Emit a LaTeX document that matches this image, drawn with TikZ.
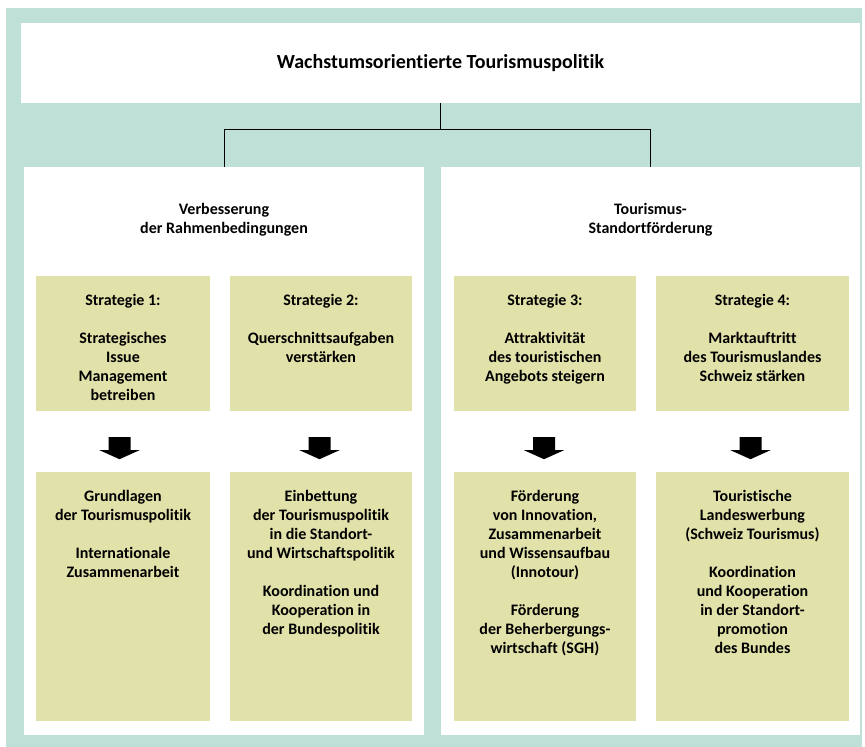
\documentclass[tikz,border=0pt]{standalone}
\usepackage{fontspec}
\setmainfont[Ligatures=NoCommon]{Carlito}
\usetikzlibrary{positioning}
\definecolor{tealbg}{RGB}{191,224,215}
\definecolor{strawbox}{RGB}{225,225,170}

\begin{document}
\begin{tikzpicture}[x=1pt, y=-1pt,
        panel/.style={fill=white, inner sep=0pt},
        strat/.style={fill=strawbox, inner sep=0pt},
        boxtext/.style={align=center, inner sep=0pt, font=\fontsize{16}{19}\selectfont\bfseries}]
    \useasboundingbox (0,0) rectangle (865,747);
    % Background
    \fill[tealbg] (6,8) rectangle (862,747);

    % Top level
    \node[panel, minimum width=839pt, minimum height=80pt, font=\fontsize{20}{22}\selectfont\bfseries] (top) at (440.5,63) {Wachstumsorientierte Tourismuspolitik};

    % Two pillars
    \node[panel, minimum width=400pt, minimum height=568pt] (pl) at (224,451) {};
    \node[panel, minimum width=419pt, minimum height=568pt] (pr) at (650.5,451) {};
    \node[boxtext, below=36pt of pl.north] (pltext) {Verbesserung\\der Rahmenbedingungen};
    \node[boxtext, below=36pt of pr.north] (prtext) {Tourismus-\\Standortförderung};

    % Tree connections
    \coordinate (fork) at ([yshift=-26pt]top.south);
    \draw[line width=0.9pt] (top.south) -- (fork) -| (pl.north);
    \draw[line width=0.9pt] (fork) -| (pr.north);

    % Strategy boxes and measure boxes
    \foreach \n/\x/\w in {1/123/174, 2/321/182, 3/545/182, 4/752.5/193} {
        \node[strat, minimum width=\w pt, minimum height=135pt] (s\n) at (\x,343.5) {};
        \node[strat, minimum width=\w pt, minimum height=249pt] (m\n) at (\x,596.5) {};
    }

    \node[boxtext, below=18pt of s1.north] (s1text) {Strategie 1:\\[19pt]Strategisches\\Issue\\Management\\betreiben};
    \node[boxtext, below=18pt of s2.north] (s2text) {Strategie 2:\\[19pt]Querschnittsaufgaben\\verstärken};
    \node[boxtext, below=18pt of s3.north] (s3text) {Strategie 3:\\[19pt]Attraktivität\\des touristischen\\Angebots steigern};
    \node[boxtext, below=18pt of s4.north] (s4text) {Strategie 4:\\[19pt]Markt\-auftritt\\des Tourismuslandes\\Schweiz stärken};

    \node[boxtext, below=18pt of m1.north] (m1text) {Grundlagen\\der Tourismuspolitik\\[19pt]Internationale\\Zusammenarbeit};
    \node[boxtext, below=18pt of m2.north] (m2text) {Einbettung\\der Tourismuspolitik\\in die Standort-\\und Wirtschaftspolitik\\[19pt]Koordination und\\Kooperation in\\der Bundespolitik};
    \node[boxtext, below=18pt of m3.north] (m3text) {Förderung\\von Innovation,\\Zusammenarbeit\\und Wissensaufbau\\(Innotour)\\[19pt]Förderung\\der Beherbergungs-\\wirtschaft (SGH)};
    \node[boxtext, below=18pt of m4.north] (m4text) {Touristische\\Landeswerbung\\(Schweiz Tourismus)\\[19pt]Koordination\\und Kooperation\\in der Standort-\\promotion\\des Bundes};

    % Block arrows
    \foreach \b/\dx in {s1/-3.5, s2/-1.5, s3/-1, s4/-2}
        \fill[shift={(\b.south)}, xshift=\dx pt] (-11,26) -- (11,26) -- (11,39) -- (20,39) -- (0,48) -- (-20,39) -- (-11,39) -- cycle;
\end{tikzpicture}
\end{document}
